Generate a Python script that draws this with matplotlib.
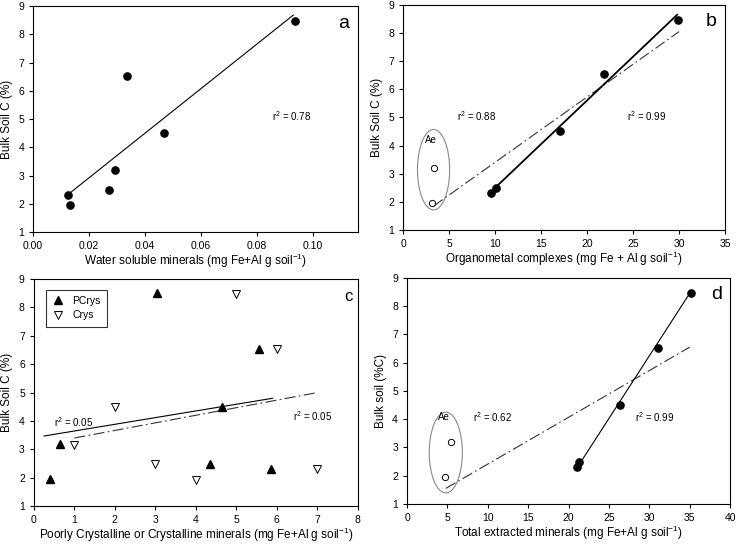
import numpy as np
import matplotlib
matplotlib.use("Agg")
import matplotlib.pyplot as plt
from matplotlib.patches import Ellipse

plt.rcParams['font.family'] = ['Liberation Sans', 'DejaVu Sans']
plt.rcParams['mathtext.fontset'] = 'custom'
plt.rcParams['mathtext.rm'] = 'Liberation Sans'
plt.rcParams['mathtext.it'] = 'Liberation Sans'
plt.rcParams['mathtext.default'] = 'regular'

# panel a: water soluble minerals
a_x = [0.0125, 0.0133, 0.0270, 0.0293, 0.0337, 0.0467, 0.0935]
a_y = [2.32, 1.95, 2.50, 3.20, 6.53, 4.50, 8.48]
a_fit_x = [0.0125, 0.0930]
a_fit_y = [2.33, 8.68]

# panel b: organometal complexes
b_x = [9.5, 10.1, 17.0, 21.8, 29.9]
b_y = [2.32, 2.50, 4.50, 6.53, 8.48]
b_ae_x = [3.3, 3.1]
b_ae_y = [3.20, 1.95]
b_fit_x = [10.0, 29.8]
b_fit_y = [2.50, 8.65]
b_all_x = [3.3, 30.0]
b_all_y = [1.85, 8.05]

# panel c: poorly crystalline / crystalline
pc_x = [0.40, 0.65, 3.05, 4.35, 4.65, 5.57, 5.87]
pc_y = [1.95, 3.20, 8.50, 2.50, 4.50, 6.55, 2.32]
cr_x = [1, 2, 3, 4, 5, 6, 7]
cr_y = [3.17, 4.50, 2.50, 1.93, 8.47, 6.52, 2.30]
pc_fit_x = [0.25, 5.9]
pc_fit_y = [3.47, 4.80]
cr_fit_x = [1.0, 7.0]
cr_fit_y = [3.40, 5.00]

# panel d: total extracted minerals
d_x = [21.1, 21.3, 26.4, 31.1, 35.1]
d_y = [2.32, 2.50, 4.50, 6.53, 8.48]
d_ae_x = [4.7, 5.5]
d_ae_y = [1.95, 3.20]
d_fit_x = [21.1, 35.1]
d_fit_y = [2.30, 8.50]
d_all_x = [4.8, 35.0]
d_all_y = [1.55, 6.55]

fs = 8.5
lp = 0.5
fig = plt.figure(figsize=(7.36, 5.46), dpi=100)
ax_a = fig.add_axes([0.045, 0.575, 0.441, 0.414])
ax_b = fig.add_axes([0.548, 0.579, 0.437, 0.412])
ax_c = fig.add_axes([0.046, 0.073, 0.440, 0.416])
ax_d = fig.add_axes([0.553, 0.077, 0.439, 0.414])

for ax in (ax_a, ax_b, ax_c, ax_d):
    ax.set_ylim(1, 9)
    ax.set_yticks(range(1, 10))
    ax.tick_params(direction='out', length=3, width=0.8, labelsize=7.5, top=False, right=False)
    for s in ax.spines.values():
        s.set_linewidth(0.8)

dashdot = (0, (10, 3, 1.5, 3))
ms = 5.2

# a
ax_a.plot(a_fit_x, a_fit_y, color='black', lw=0.8)
ax_a.plot(a_x, a_y, 'o', color='black', ms=ms)
ax_a.set_xlim(0, 0.116)
ax_a.set_xticks(np.arange(0, 0.101, 0.02))
ax_a.set_xticklabels(['0.00', '0.02', '0.04', '0.06', '0.08', '0.10'])
ax_a.text(0.0923, 5.1, '$r^2$ = 0.78', fontsize=7, ha='center', va='center')
ax_a.text(0.975, 0.96, 'a', transform=ax_a.transAxes, fontsize=14, ha='right', va='top')
ax_a.set_xlabel('Water soluble minerals (mg Fe+Al g soil$^{-1}$)', fontsize=fs, labelpad=lp)
ax_a.set_ylabel('Bulk Soil C (%)', fontsize=fs)

# b
ax_b.add_patch(Ellipse((3.29, 3.14), 3.5, 2.86, fill=False, edgecolor='#888888', lw=0.8))
ax_b.plot(b_all_x, b_all_y, color='#333333', lw=0.8, linestyle=dashdot)
ax_b.plot(b_fit_x, b_fit_y, color='black', lw=1.3)
ax_b.plot(b_x, b_y, 'o', color='black', ms=ms)
ax_b.plot(b_ae_x, b_ae_y, 'o', mfc='white', mec='black', mew=0.7, ms=4.5)
ax_b.set_xlim(0, 35)
ax_b.set_xticks(range(0, 36, 5))
ax_b.text(3.0, 4.2, 'Ae', fontsize=7, ha='center', va='center')
ax_b.text(8.0, 5.05, '$r^2$ = 0.88', fontsize=7, ha='center', va='center')
ax_b.text(26.5, 5.05, '$r^2$ = 0.99', fontsize=7, ha='center', va='center')
ax_b.text(0.975, 0.965, 'b', transform=ax_b.transAxes, fontsize=14, ha='right', va='top')
ax_b.set_xlabel('Organometal complexes (mg Fe + Al g soil$^{-1}$)', fontsize=fs, labelpad=lp)
ax_b.set_ylabel('Bulk Soil C (%)', fontsize=fs)

# c
ax_c.plot(pc_fit_x, pc_fit_y, color='black', lw=0.8)
ax_c.plot(cr_fit_x, cr_fit_y, color='#333333', lw=0.8, linestyle=dashdot)
ax_c.plot(pc_x, pc_y, '^', color='black', ms=ms, label='PCrys')
ax_c.plot(cr_x, cr_y, 'v', mfc='white', mec='black', mew=0.7, ms=ms, label='Crys')
ax_c.set_xlim(0, 8)
ax_c.set_xticks(range(0, 9))
ax_c.text(0.98, 3.95, '$r^2$ = 0.05', fontsize=7, ha='center', va='center')
ax_c.text(6.88, 4.16, '$r^2$ = 0.05', fontsize=7, ha='center', va='center')
ax_c.text(0.985, 0.955, 'c', transform=ax_c.transAxes, fontsize=12, ha='right', va='top')
leg = ax_c.legend(loc='upper left', bbox_to_anchor=(0.02, 0.975), fontsize=7.5, frameon=True,
                  fancybox=False, edgecolor='black', handlelength=1.2, borderpad=0.6,
                  labelspacing=0.4)
leg.get_frame().set_linewidth(0.8)
ax_c.set_xlabel('Poorly Crystalline or Crystalline minerals (mg Fe+Al g soil$^{-1}$)', fontsize=fs, labelpad=lp)
ax_c.set_ylabel('Bulk Soil C (%)', fontsize=fs)

# d
ax_d.add_patch(Ellipse((4.8, 2.82), 4.1, 2.86, fill=False, edgecolor='#888888', lw=0.8))
ax_d.plot(d_all_x, d_all_y, color='#333333', lw=0.8, linestyle=dashdot)
ax_d.plot(d_fit_x, d_fit_y, color='black', lw=0.8)
ax_d.plot(d_x, d_y, 'o', color='black', ms=ms)
ax_d.plot(d_ae_x, d_ae_y, 'o', mfc='white', mec='black', mew=0.7, ms=4.5)
ax_d.set_xlim(0, 40)
ax_d.set_xticks(range(0, 41, 5))
ax_d.text(4.6, 4.07, 'Ae', fontsize=7, ha='center', va='center')
ax_d.text(10.6, 4.07, '$r^2$ = 0.62', fontsize=7, ha='center', va='center')
ax_d.text(30.6, 4.07, '$r^2$ = 0.99', fontsize=7, ha='center', va='center')
ax_d.text(0.975, 0.965, 'd', transform=ax_d.transAxes, fontsize=14, ha='right', va='top')
ax_d.set_xlabel('Total extracted minerals (mg Fe+Al g soil$^{-1}$)', fontsize=fs, labelpad=lp)
ax_d.set_ylabel('Bulk soil (%C)', fontsize=fs)

fig.savefig('out.png', dpi=100)
